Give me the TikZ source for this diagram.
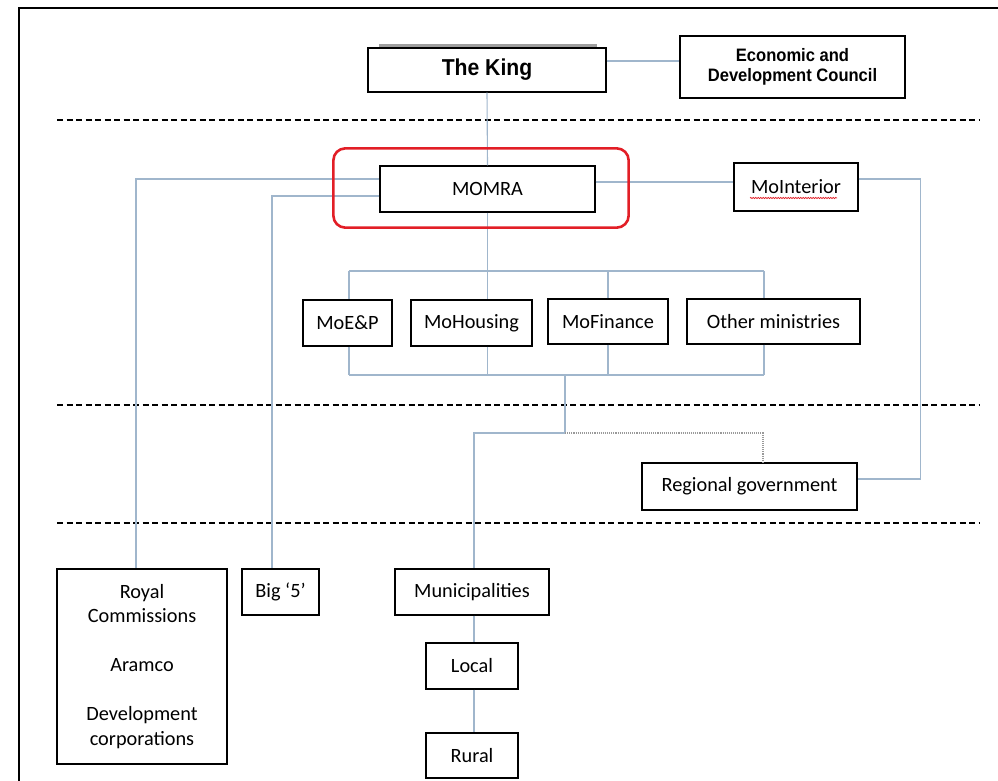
\documentclass[tikz,border=0pt]{standalone}
\usepackage{fontspec}
\setmainfont{Carlito}
\newfontfamily\headfont[FakeStretch=0.92]{Liberation Sans}
\usetikzlibrary{decorations.pathmorphing}
\definecolor{linkblue}{RGB}{160,182,204}
\definecolor{markred}{RGB}{226,30,38}
\newcommand\orgtext{\fontsize{20.3}{24.5}\selectfont}

\begin{document}
\begin{tikzpicture}[x=1pt,y=-1pt,
  box/.style={draw,line width=1.3pt,fill=white,inner sep=0pt,align=center,font=\orgtext},
  link/.style={draw=linkblue,line width=1.1pt},
  sepline/.style={dash pattern=on 6pt off 3.5pt,line width=1.3pt}]
\useasboundingbox (0,0) rectangle (998,781);
\clip (0,0) rectangle (998,781);
\draw[line width=1.5pt] (19,790) |- (1010,8);
\draw[sepline] (57,120) -- (980,120);
\draw[sepline] (57,405) -- (980,405);
\draw[sepline] (57,523) -- (980,523);
\fill[gray!75] (379,44) rectangle (597,92);
\node[box,minimum width=238pt,minimum height=44pt,font=\headfont\bfseries\fontsize{23}{26}\selectfont] (King) at (487,70) {The King};
\node[box,minimum width=225pt,minimum height=62pt,font=\headfont\bfseries\fontsize{18}{20}\selectfont] (EDC) at (792.5,67) {Economic and\\Development Council};
\node[box,minimum width=215pt,minimum height=46pt] (MOMRA) at (487.5,189) {MOMRA};
\node[box,minimum width=124pt,minimum height=48pt] (MoInt) at (796,187) {MoInterior};
\node[box,minimum width=89pt,minimum height=46pt] (MoEP) at (347.5,323) {MoE\&P};
\node[box,minimum width=121pt,minimum height=46pt] (MoHou) at (471.5,323) {MoHousing};
\node[box,minimum width=120pt,minimum height=45pt] (MoFin) at (608,321.5) {MoFinance};
\node[box,minimum width=173pt,minimum height=45pt] (MoOth) at (773.5,321.5) {Other ministries};
\node[box,minimum width=215pt,minimum height=47pt] (RegGov) at (749.5,486.5) {Regional government};
\node[box,minimum width=170pt,minimum height=195pt] (Royal) at (142,666.5) {Royal\\Commissions\\[24.5pt]Aramco\\[24.5pt]Development\\corporations};
\node[box,minimum width=77pt,minimum height=46pt] (Big5) at (280.5,592) {Big ‘5’};
\node[box,minimum width=154pt,minimum height=46pt] (Muni) at (472,592) {Municipalities};
\node[box,minimum width=92pt,minimum height=46pt] (Local) at (472,666) {Local};
\node[box,minimum width=92pt,minimum height=45pt] (Rural) at (472,755.5) {Rural};
\draw[markred,line width=0.7pt,decorate,decoration={snake,amplitude=0.6pt,segment length=2.5pt}]
  ([xshift=-46pt,yshift=-11pt]MoInt.center) -- ([xshift=41pt,yshift=-11pt]MoInt.center);
\coordinate (tl) at (349,271);
\coordinate (tr) at (764,271);
\coordinate (bl) at (349,375);
\coordinate (br) at (764,375);
\coordinate (split) at (565,433);
\draw[link] (King.south) -- (MOMRA.north);
\draw[link] ([yshift=9pt]King.east) -- ([yshift=9pt]King.east -| EDC.west);
\draw[link] ([yshift=10pt]MOMRA.west) -| ([xshift=-6pt]Royal.north);
\draw[link] ([yshift=-7pt]MOMRA.west) -| ([xshift=-8.5pt]Big5.north);
\draw[link] ([yshift=7pt]MOMRA.east) -- ([yshift=7pt]MOMRA.east -| MoInt.west);
\draw[link] ([yshift=8pt]MoInt.east) -- ++(62,0) |- ([yshift=7.5pt]RegGov.east);
\draw[link] (tl) -- (tr);
\draw[link] (tl) -- (tl |- MoEP.north);
\draw[link] (tr) -- (tr |- MoOth.north);
\draw[link] (MOMRA.south) -- (MOMRA.south |- MoHou.north);
\draw[link] (MoFin.north) -- (MoFin.north |- tl);
\draw[link] (bl) -- (br);
\draw[link] (bl |- MoEP.south) -- (bl);
\draw[link] (br |- MoOth.south) -- (br);
\draw[link] (MOMRA.south |- MoHou.south) -- (MOMRA.south |- bl);
\draw[link] (MoFin.south) -- (MoFin.south |- bl);
\draw[link] (split |- bl) -- (split) -| ([xshift=2pt]Muni.north);
\draw[link,densely dotted,draw=gray!80] (split) -| ([xshift=13.5pt]RegGov.north);
\draw[link] ([xshift=2pt]Muni.south) -- ([xshift=2pt]Local.north);
\draw[link] ([xshift=2pt]Local.south) -- ([xshift=2pt]Rural.north);
\draw[markred,line width=2.6pt,rounded corners=12pt] ([xshift=-46pt,yshift=17pt]MOMRA.north west) rectangle ([xshift=33pt,yshift=-15pt]MOMRA.south east);
\end{tikzpicture}
\end{document}
